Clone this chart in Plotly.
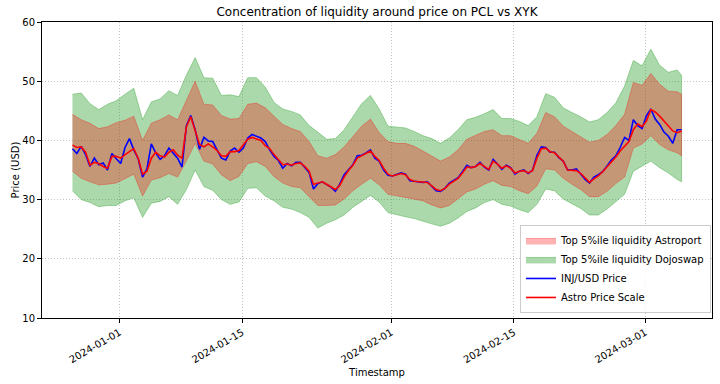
import pandas as pd
import plotly.graph_objects as go

# ---------------- data ----------------
price_start = "2023-12-26 15:00"          # 12-hour samples
inj_usd_price = [
    38.6, 37.8, 39.0, 37.6, 35.6, 37.0, 35.9, 36.2, 35.0, 37.8,
    36.9, 36.1, 38.8, 40.3, 38.4, 36.9, 33.8, 35.2, 39.4, 37.9,
    36.8, 37.4, 38.7, 37.8, 37.0, 35.5, 42.5, 44.2, 41.8, 38.5,
    40.5, 39.9, 39.8, 38.4, 37.0, 36.7, 38.2, 38.7, 38.0, 38.7,
    40.4, 41.0, 40.7, 40.4, 39.8, 38.4, 37.3, 36.6, 35.3, 36.1,
    35.7, 36.3, 36.3, 35.5, 34.6, 31.8, 32.7, 33.0, 32.6, 32.1,
    31.4, 32.6, 34.2, 35.1, 35.9, 37.4, 37.5, 37.9, 38.4, 37.0,
    36.5, 35.0, 34.1, 34.0, 34.2, 34.5, 34.3, 33.2, 33.1, 33.0,
    32.9, 33.0, 32.2, 31.5, 31.4, 31.9, 32.8, 33.2, 33.7, 34.7,
    35.8, 35.4, 35.6, 36.3, 35.5, 35.0, 36.8, 36.0, 35.1, 35.8,
    35.4, 34.3, 34.8, 35.0, 34.4, 35.0, 37.5, 38.9, 38.8, 38.0,
    38.0, 37.1, 36.5, 35.0, 35.0, 35.2, 34.3, 33.4, 32.8, 33.8,
    34.2, 34.7, 35.7, 36.7, 37.4, 38.8, 40.5, 40.0, 43.5, 42.5,
    42.0, 44.2, 45.3, 43.6, 42.7, 41.4, 40.7, 39.5, 41.8, 41.8,
]
astro_price_scale = [
    39.2, 38.8, 38.9, 38.0, 35.8, 36.3, 36.1, 35.6, 35.3, 37.3,
    37.3, 37.0, 37.6, 38.1, 38.6, 37.0, 34.3, 34.8, 37.0, 38.0,
    37.4, 37.2, 38.0, 38.4, 37.5, 37.0, 42.3, 44.0, 41.5, 39.3,
    38.9, 39.4, 38.9, 38.3, 37.4, 37.3, 38.1, 38.1, 38.3, 39.3,
    40.2, 40.5, 40.3, 40.0, 39.1, 38.6, 37.6, 36.8, 35.9, 36.0,
    35.8, 36.1, 36.2, 35.6, 34.8, 32.6, 32.8, 33.0, 32.6, 32.2,
    31.7, 32.4, 33.8, 34.9, 35.8, 37.0, 37.4, 37.8, 38.2, 37.3,
    36.6, 35.3, 34.3, 34.0, 34.2, 34.4, 34.2, 33.4, 33.1, 33.0,
    32.9, 32.9, 32.3, 31.7, 31.5, 31.9, 32.6, 33.1, 33.6, 34.5,
    35.5, 35.4, 35.6, 36.1, 35.6, 35.1, 36.5, 36.0, 35.3, 35.7,
    35.3, 34.5, 34.8, 34.9, 34.5, 34.9, 37.0, 38.6, 38.7, 38.1,
    37.9, 37.2, 36.5, 35.0, 35.0, 34.9, 34.4, 33.7, 32.9, 33.5,
    34.0, 34.7, 35.5, 36.3, 37.2, 38.2, 39.1, 39.8, 41.8, 42.8,
    42.3, 43.3, 45.2, 44.8, 44.1, 43.3, 42.5, 41.6, 41.3, 41.6,
]

band_start = "2023-12-26 15:00"           # daily samples + final point
band_end = "2024-03-05 03:00"
dojoswap_upper = [
    47.8, 48.0, 46.2, 45.2, 46.1, 46.7, 47.8, 48.8, 43.5, 46.5,
    47.0, 48.4, 47.6, 51.0, 54.0, 50.6, 50.5, 47.6, 47.7, 47.4,
    50.6, 50.6, 49.0, 46.4, 45.3, 44.9, 44.3, 42.5, 41.4, 40.2,
    40.3, 41.8, 44.0, 46.2, 47.6, 45.3, 42.4, 42.2, 42.1, 41.5,
    40.8, 40.3, 39.5, 40.4, 41.8, 43.5, 43.9, 44.5, 45.2, 43.7,
    43.7, 43.2, 42.5, 44.0, 47.9, 47.3, 45.5, 44.7, 44.0, 43.1,
    43.5, 44.7, 46.3, 49.2, 53.5, 52.6, 55.4, 52.7, 51.5, 51.9,
    51.0,
]
dojoswap_lower = [
    31.5, 30.0, 29.5, 28.8, 29.0, 29.0, 29.8, 30.3, 27.0, 29.4,
    29.7, 30.5, 29.2, 31.7, 35.0, 32.2, 31.6, 30.0, 29.2, 29.6,
    31.9, 32.0, 30.6, 29.8, 28.7, 28.4, 27.8, 27.0, 25.2, 26.0,
    26.6, 27.4, 28.7, 29.7, 30.7, 29.6, 27.8, 27.5, 27.1, 26.8,
    26.4, 25.9, 25.5, 26.0, 26.9, 28.0, 28.6, 29.5, 30.0, 29.2,
    28.9, 28.3, 27.8, 29.2, 31.8, 31.5, 30.1, 29.3, 28.5, 27.4,
    27.4, 28.4, 29.6, 30.9, 34.8, 35.7, 36.5, 35.4, 34.5, 33.4,
    33.0,
]
astroport_upper = [
    44.4, 43.5, 42.9, 42.0, 42.3, 43.0, 43.4, 44.1, 40.0, 42.9,
    43.5, 44.3, 43.5, 46.8, 50.0, 46.1, 46.0, 44.2, 43.6, 43.7,
    46.1, 46.3, 45.5, 44.1, 42.7, 42.0, 41.5, 39.8, 37.4, 37.0,
    37.6, 38.9, 40.7, 42.4, 43.6, 41.3, 39.8, 39.5, 39.5, 39.0,
    38.2, 37.4, 36.5, 37.2, 38.4, 40.2, 40.8, 41.5, 41.8, 40.8,
    40.8, 40.2, 39.5, 41.2, 44.7, 44.0, 42.4, 41.5, 40.6, 39.7,
    40.0, 41.0, 42.5, 44.4, 49.8, 49.3, 51.3, 49.5, 48.3, 48.2,
    47.8,
]
astroport_lower = [
    34.8, 33.6, 33.0, 32.5, 32.6, 32.8, 33.6, 34.3, 30.6, 33.3,
    33.7, 34.4, 33.8, 36.5, 39.5, 36.5, 36.0, 34.2, 33.2, 33.9,
    36.1, 36.4, 35.6, 33.9, 32.8, 32.2, 32.0, 30.5, 29.0, 29.0,
    29.1, 30.1, 31.5, 32.6, 33.6, 32.5, 30.9, 30.6, 30.4, 30.1,
    29.8, 29.1, 28.6, 29.0, 30.2, 31.3, 31.8, 32.6, 33.2, 32.4,
    32.2, 31.5, 31.0, 32.3, 35.2, 35.0, 33.6, 32.6, 31.7, 30.5,
    30.5, 31.4, 32.7, 33.8, 38.7, 39.4, 40.8, 39.3, 38.4, 37.9,
    37.4,
]

x_tick_values = ["2024-01-01", "2024-01-15", "2024-02-01", "2024-02-15", "2024-03-01"]
y_tick_values = [10, 20, 30, 40, 50, 60]

# ---------------- build ----------------
price_times = pd.date_range(price_start, periods=len(inj_usd_price), freq="12h")
band_times = list(pd.date_range(band_start, periods=len(dojoswap_upper) - 1, freq="D")) + [
    pd.Timestamp(band_end)
]
band_x = band_times + band_times[::-1]

t_min = min(price_times[0], band_times[0])
t_max = max(price_times[-1], band_times[-1])
pad = (t_max - t_min) * 0.05
x_range = [t_min - pad, t_max + pad]

FONT = "DejaVu Sans, Liberation Sans, sans-serif"

fig = go.Figure()
fig.add_trace(go.Scatter(
    x=band_x, y=dojoswap_upper + dojoswap_lower[::-1],
    fill="toself", fillcolor="rgba(44,160,44,0.4)",
    line=dict(color="rgba(44,160,44,0.4)", width=1),
    mode="lines", name="Top 5%ile liquidity Dojoswap", legendrank=2,
    hoverinfo="skip",
))
fig.add_trace(go.Scatter(
    x=band_x, y=astroport_upper + astroport_lower[::-1],
    fill="toself", fillcolor="rgba(255,0,0,0.3)",
    line=dict(color="rgba(255,0,0,0.3)", width=1),
    mode="lines", name="Top 5%ile liquidity Astroport", legendrank=1,
    hoverinfo="skip",
))
fig.add_trace(go.Scatter(
    x=price_times, y=inj_usd_price, mode="lines",
    line=dict(color="blue", width=1.6), name="INJ/USD Price", legendrank=3,
))
fig.add_trace(go.Scatter(
    x=price_times, y=astro_price_scale, mode="lines",
    line=dict(color="red", width=1.6), name="Astro Price Scale", legendrank=4,
))

axis_common = dict(
    showline=True, mirror=True, linecolor="black", linewidth=1,
    ticks="outside", ticklen=4, tickwidth=1, tickcolor="black",
    showgrid=True, gridcolor="#c4c4c4", gridwidth=1, griddash="1px,2px",
    zeroline=False, tickfont=dict(size=10, color="black", family=FONT),
)

fig.update_layout(
    width=720, height=384,
    margin=dict(l=42, r=8, t=22, b=66),
    paper_bgcolor="white", plot_bgcolor="white",
    font=dict(family=FONT, size=10, color="black"),
    title=dict(
        text="Concentration of liquidity around price on PCL vs XYK",
        x=0.5, xref="paper", y=1 - 12 / 384, yref="container",
        xanchor="center", yanchor="middle",
        font=dict(size=12, color="black", family=FONT),
    ),
    xaxis=dict(
        **axis_common,
        range=x_range,
        tickvals=pd.to_datetime(x_tick_values),
        ticktext=x_tick_values,
        tickangle=-30,
        title=dict(text="Timestamp", font=dict(size=10, family=FONT), standoff=4),
    ),
    yaxis=dict(
        **axis_common,
        range=[10, 60],
        tickvals=y_tick_values,
        title=dict(text="Price (USD)", font=dict(size=10, family=FONT), standoff=0),
    ),
    legend=dict(
        x=0.9985, y=0.017, xanchor="right", yanchor="bottom",
        bgcolor="rgba(255,255,255,0.8)", bordercolor="#cccccc", borderwidth=1,
        font=dict(size=10, family=FONT, color="black"),
        tracegroupgap=0, itemwidth=30,
    ),
    showlegend=True,
)

fig.write_html(
    "out.html",
    config={"displayModeBar": False},
    post_script="document.body.style.margin='0px';document.body.style.padding='0px';",
)
